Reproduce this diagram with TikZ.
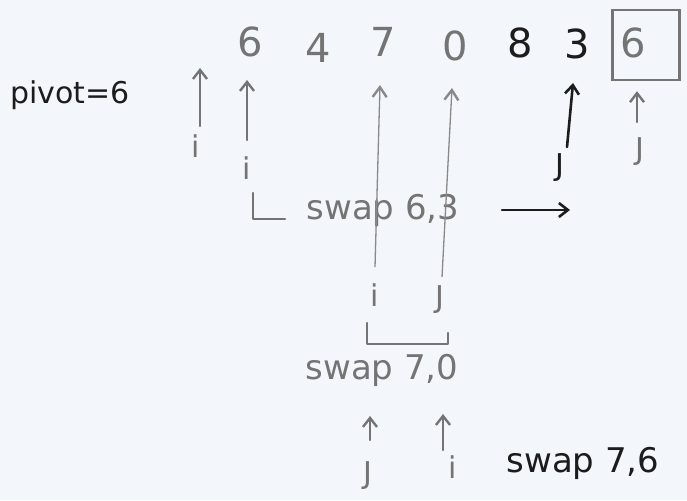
\documentclass[tikz,border=0pt]{standalone}
\usepackage{fontspec}
\setmainfont{DejaVu Sans}
\usetikzlibrary{arrows.meta,calc}
\definecolor{paper}{HTML}{F3F6FB}
\definecolor{pencil}{HTML}{747474}
\definecolor{ink}{HTML}{1C1C1C}
\begin{document}
\begin{tikzpicture}[x=1pt,y=-1pt,
  every node/.style={inner sep=1pt},
  dig/.style={text=pencil, font=\fontsize{40}{40}\selectfont},
  digink/.style={text=ink, font=\fontsize{40}{40}\selectfont},
  lbl/.style={text=pencil, font=\fontsize{30}{30}\selectfont},
  lblink/.style={text=ink, font=\fontsize{30}{30}\selectfont},
  note/.style={text=pencil, font=\fontsize{34}{34}\selectfont},
  noteink/.style={text=ink, font=\fontsize{34}{34}\selectfont},
  parr/.style={draw=pencil, line width=2.4pt, line cap=round, -{Straight Barb[length=9pt,width=14pt]}},
  thinarr/.style={draw=pencil!85, line width=1.3pt, -{Straight Barb[length=10pt,width=14pt,line width=2.4pt]}},
  iarr/.style={draw=ink, line width=2.6pt, line cap=round, -{Straight Barb[length=9pt,width=14pt]}},
  pline/.style={draw=pencil, line width=2.4pt, line cap=round, line join=round},
]
\fill[paper] (0,0) rectangle (687,500);
\useasboundingbox (0,0) rectangle (687,500);

% the array, pivot boxed at the end
\node[dig]    (d1) at (250,42) {6};
\node[dig]    (d2) at (318,48) {4};
\node[dig]    (d3) at (383,42) {7};
\node[dig]    (d4) at (455,46) {0};
\node[digink] (d5) at (520,43) {8};
\node[digink] (d6) at (577,44) {3};
\node[draw=pencil, line width=2.4pt, minimum width=67pt, minimum height=70pt] (bx) at (646,45) {};
\node[dig]    (d7) at (633,43) {6};

\node[noteink, font=\fontsize{30}{30}\selectfont] (piv) at (70,95) {pivot=6};

% first pass: i starts before the array, i/j at the ends
\node[lbl] (i0) at (196,146) {i};
\coordinate (m0) at (200,68);
\draw[parr] ($(i0)+(4,-20)$) -- (m0);

\node[lbl] (i1) at (247,168) {i};
\draw[parr] ($(i1)+(0,-28)$) -- ($(d1)+(-3,38)$);

\node[lblink] (jA) at (560,168) {J};
\draw[iarr] ($(jA)+(7,-21)$) -- ($(d6)+(-4,39)$);

\node[lbl] (jB) at (640,152) {J};
\draw[parr] ($(jB)+(-3,-30)$) -- ($(bx.south)+(-9,10)$);

% swap 6,3
\node[note] (s1) at (383,210) {swap 6,3};
\draw[pline] ($(s1)+(-130,-17)$) |- ($(s1)+(-98,9)$);
\coordinate (a1) at ($(s1)+(119,0)$);
\coordinate (a2) at ($(s1)+(187,0)$);
\draw[iarr] (a1) -- (a2);

% second pass: i and j move to 7 and 0
\node[lbl] (i2) at (375,295) {i};
\node[lbl] (j2) at (440,300) {J};
\draw[thinarr] ($(i2)+(0,-28)$) -- ($(d3)+(-3,43)$);
\draw[thinarr] ($(j2)+(2,-23)$) -- ($(d4)+(-3,42)$);
\draw[pline] ($(i2)+(-8,28)$) |- ($(j2)+(8,44)$) -- ($(j2)+(8,33)$);

% swap 7,0
\node[note] (s2) at (382,370) {swap 7,0};

\node[lbl] (j3) at (368,476) {J};
\node[lbl] (i3) at (453,467) {i};
\draw[parr] ($(j3)+(2,-36)$) -- ($(s2)+(-12,46)$);
\draw[parr] ($(i3)+(-10,-17)$) -- ($(s2)+(61,44)$);

\node[noteink] (s3) at (583,463) {swap 7,6};
\end{tikzpicture}
\end{document}
